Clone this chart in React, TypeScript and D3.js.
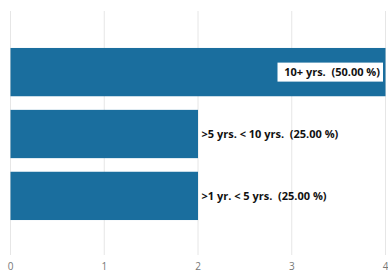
import React from 'react';
import { scaleLinear, scaleBand } from 'd3';

const categories = ['10+ yrs.', '>5 yrs. < 10 yrs.', '>1 yr. < 5 yrs.'];
const counts = [4, 2, 2];
const percents = ['50.00 %', '25.00 %', '25.00 %'];
const ticks = [0, 1, 2, 3, 4];

const W = 388;
const H = 271;

const App = () => {
  const x = scaleLinear().domain([0, 4]).range([10.5, 385.5]);
  const y = scaleBand().domain(categories).range([13, 255]).paddingInner(0.22).paddingOuter(0.565);
  const bw = y.bandwidth();

  return (
    <svg width={W} height={H} style={{ position: 'absolute', left: 0, top: 0 }}
      fontFamily="'Open Sans', sans-serif">
      {ticks.map(t => (
        <line key={t} x1={x(t)} x2={x(t)} y1={11} y2={255} stroke="#e6e6e6" strokeWidth={1} />
      ))}
      {categories.map((c, i) => {
        const y0 = y(c) as number;
        const label = `${c}  (${percents[i]})`;
        const inside = counts[i] === 4;
        return (
          <g key={c}>
            <rect x={x(0)} y={y0} width={x(counts[i]) - x(0)} height={bw} fill="#1a6e9e" />
            {inside ? (
              <g>
                <rect x={277.5} y={y0 + bw / 2 - 9.5} width={105.5} height={19} fill="#fff" />
                <text x={380} y={y0 + bw / 2} dy="0.35em" textAnchor="end" fontSize={11}
                  fontWeight={700} fill="#111" xmlSpace="preserve">{label}</text>
              </g>
            ) : (
              <text x={x(counts[i]) + 3.5} y={y0 + bw / 2} dy="0.35em" fontSize={11}
                fontWeight={700} fill="#111" xmlSpace="preserve">{label}</text>
            )}
          </g>
        );
      })}
      {ticks.map(t => (
        <text key={t} x={x(t)} y={266} dy="0.35em" textAnchor="middle" fontSize={10} fill="#777">{t}</text>
      ))}
    </svg>
  );
};

export default App;
